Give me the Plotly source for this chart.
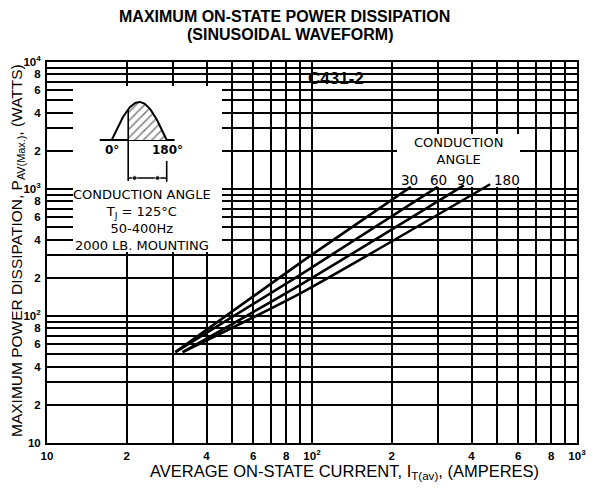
import numpy as np
import plotly.graph_objects as go

# ---------------- data ----------------
angles = ["30", "60", "90", "180"]
current_30 = [30.5, 90, 236]
power_30 = [52, 261, 1040]
current_60 = [30.5, 90, 298]
power_60 = [52, 210, 1040]
current_90 = [32.5, 90, 374]
power_90 = [52, 175, 1070]
current_180 = [32.5, 90, 470]
power_180 = [52, 150, 1090]

x_tick_vals = [10, 20, 30, 40, 50, 60, 70, 80, 90,
               100, 200, 300, 400, 500, 600, 700, 800, 900, 1000]
x_tick_text = ["10", "2", "", "4", "", "6", "", "8", "",
               "10<sup>2</sup>", "2", "", "4", "", "6", "", "8", "", "10<sup>3</sup>"]
y_tick_vals = [10, 20, 30, 40, 50, 60, 70, 80, 90,
               100, 200, 300, 400, 500, 600, 700, 800, 900,
               1000, 2000, 3000, 4000, 5000, 6000, 7000, 8000, 9000, 10000]
y_tick_text = ["10", "2", "", "4", "", "6", "", "8", "",
               "10<sup>2</sup>", "2", "", "4", "", "6", "", "8", "",
               "10<sup>3</sup>", "2", "", "4", "", "6", "", "8", "", "10<sup>4</sup>"]

# inset waveform sketch (degrees)
wave_start_deg = 0
wave_end_deg = 180
hatch_start_deg = 54

# ---------------- layout geometry ----------------
# the page body adds an 8px margin, so the figure is drawn 8px smaller / shifted
OFF = 8
W, H = 604 - OFF, 490 - OFF
L, R, T, B = 47, 577, 62, 443          # plot area in reference pixels


def px(x):
    return (x - L) / (R - L)


def py(y):
    return (B - y) / (B - T)


def dx(x):  # reference pixel -> data (log x axis 10..1000)
    return 10 ** (1 + 2 * px(x))


def dy(y):  # reference pixel -> data (log y axis 10..10^4)
    return 10 ** (1 + 3 * py(y))


fig = go.Figure()

# white panels hiding the grid (drawn as filled traces so they sit above grid lines)
for (x0, x1, y0, y1) in [(73, 222, 86, 252), (397, 520, 134, 187)]:
    fig.add_trace(go.Scatter(x=[dx(x0), dx(x1), dx(x1), dx(x0), dx(x0)],
                             y=[dy(y0), dy(y0), dy(y1), dy(y1), dy(y0)],
                             mode="lines", fill="toself", fillcolor="white",
                             line=dict(width=0, color="white"), showlegend=False, hoverinfo="skip"))

series = [(current_30, power_30), (current_60, power_60),
          (current_90, power_90), (current_180, power_180)]
for name, (xs, ys) in zip(angles, series):
    fig.add_trace(go.Scatter(x=xs, y=ys, mode="lines", name=name,
                             line=dict(color="black", width=2.6, shape="spline", smoothing=0.6),
                             showlegend=False, hoverinfo="skip"))

# inset waveform on hidden linear axes
th = np.linspace(wave_start_deg, wave_end_deg, 60)
fig.add_trace(go.Scatter(x=[-39, 206], y=[0, 0], mode="lines", xaxis="x2", yaxis="y2",
                         line=dict(color="black", width=1.8), showlegend=False, hoverinfo="skip"))
th_h = np.linspace(hatch_start_deg, wave_end_deg, 40)
hx = list(th_h) + [wave_end_deg, hatch_start_deg]
hy = list(np.sin(np.radians(th_h))) + [0, 0]
fig.add_trace(go.Scatter(x=hx, y=hy, mode="lines", fill="toself", xaxis="x2", yaxis="y2",
                         fillcolor="white",
                         fillpattern=dict(shape="/", fgcolor="black", bgcolor="white", size=6, solidity=0.25),
                         line=dict(color="black", width=0), showlegend=False, hoverinfo="skip"))
fig.add_trace(go.Scatter(x=th, y=np.sin(np.radians(th)), mode="lines", xaxis="x2", yaxis="y2",
                         line=dict(color="black", width=2), showlegend=False, hoverinfo="skip"))
fig.add_trace(go.Scatter(x=[hatch_start_deg, hatch_start_deg],
                         y=[np.sin(np.radians(hatch_start_deg)), -1.08], mode="lines",
                         xaxis="x2", yaxis="y2", line=dict(color="black", width=1.6),
                         showlegend=False, hoverinfo="skip"))
fig.add_trace(go.Scatter(x=[wave_end_deg, wave_end_deg], y=[-0.55, -1.1], mode="lines",
                         xaxis="x2", yaxis="y2", line=dict(color="black", width=1.6),
                         showlegend=False, hoverinfo="skip"))
fig.add_trace(go.Scatter(x=[hatch_start_deg, 75, 150, wave_end_deg], y=[-1.0, -1.0, -1.0, -1.0],
                         mode="lines+markers", xaxis="x2", yaxis="y2",
                         marker=dict(size=[0, 5, 5, 0], color="black"),
                         line=dict(color="black", width=1.6), showlegend=False, hoverinfo="skip"))

tickfont = dict(family="Liberation Sans", size=11.5, color="black")
fig.update_layout(
    width=W, height=H, autosize=False,
    margin=dict(l=L - OFF, r=W - (R - OFF), t=T - OFF, b=H - (B - OFF), pad=0),
    paper_bgcolor="white", plot_bgcolor="white",
    xaxis=dict(type="log", range=[1, 3], tickvals=x_tick_vals,
               ticktext=["<b>%s</b>" % t if t else "" for t in x_tick_text],
               showgrid=True, gridcolor="black", gridwidth=1.6,
               showline=True, linecolor="black", linewidth=2, mirror=True,
               ticks="", ticklabelstandoff=1, tickfont=tickfont, zeroline=False),
    yaxis=dict(type="log", range=[1, 4], tickvals=y_tick_vals,
               ticktext=["<b>%s</b>" % t if t else "" for t in y_tick_text],
               showgrid=True, gridcolor="black", gridwidth=1.6,
               showline=True, linecolor="black", linewidth=2, mirror=True,
               ticks="", ticklabelstandoff=2, tickfont=tickfont, zeroline=False),
    xaxis2=dict(domain=[px(95), px(185)], range=[(95 - 111.7) / (55 / 180), (185 - 111.7) / (55 / 180)],
                visible=False, anchor="y2"),
    yaxis2=dict(domain=[py(185), py(95)], range=[-45 / 38, 45 / 38], visible=False, anchor="x2"),
)


def ann(text, x, y, size, family="Liberation Sans", bold=False, **kw):
    t = "<b>%s</b>" % text if bold else text
    fig.add_annotation(text=t, x=px(x), y=py(y), xref="paper", yref="paper",
                       showarrow=False, xanchor="center", yanchor="middle",
                       font=dict(family=family, size=size, color="black"), **kw)


# titles
ann("MAXIMUM ON-STATE POWER DISSIPATION", 284, 17, 16, bold=True)
ann("(SINUSOIDAL WAVEFORM)", 290, 35, 16, bold=True)

# axis titles
ann("AVERAGE ON-STATE CURRENT, I<sub>T(av)</sub>, (AMPERES)", 344, 472, 16.5)
ann("MAXIMUM POWER DISSIPATION, P<sub>AV(Max.)</sub>, (WATTS)", 17, 251, 15.5, textangle=-90)

# chart labels
ann("C431-2", 336, 78, 17, bold=True)
ann("CONDUCTION<br>ANGLE", 458, 151, 13, family="DejaVu Sans")
for lab, x in zip(angles, [409, 438, 465, 507]):
    ann(lab, x, 180, 13.5, family="DejaVu Sans")

# inset text (one block)
ann("CONDUCTION ANGLE<br>T<sub>J</sub> = 125°C<br>50-400Hz<br>2000 LB. MOUNTING",
    142, 220, 13, family="DejaVu Sans", align="center")
ann("0°", 112, 150, 12, family="DejaVu Sans", bold=True)
ann("180°", 167, 150, 12, family="DejaVu Sans", bold=True)

fig.write_html("out.html")
